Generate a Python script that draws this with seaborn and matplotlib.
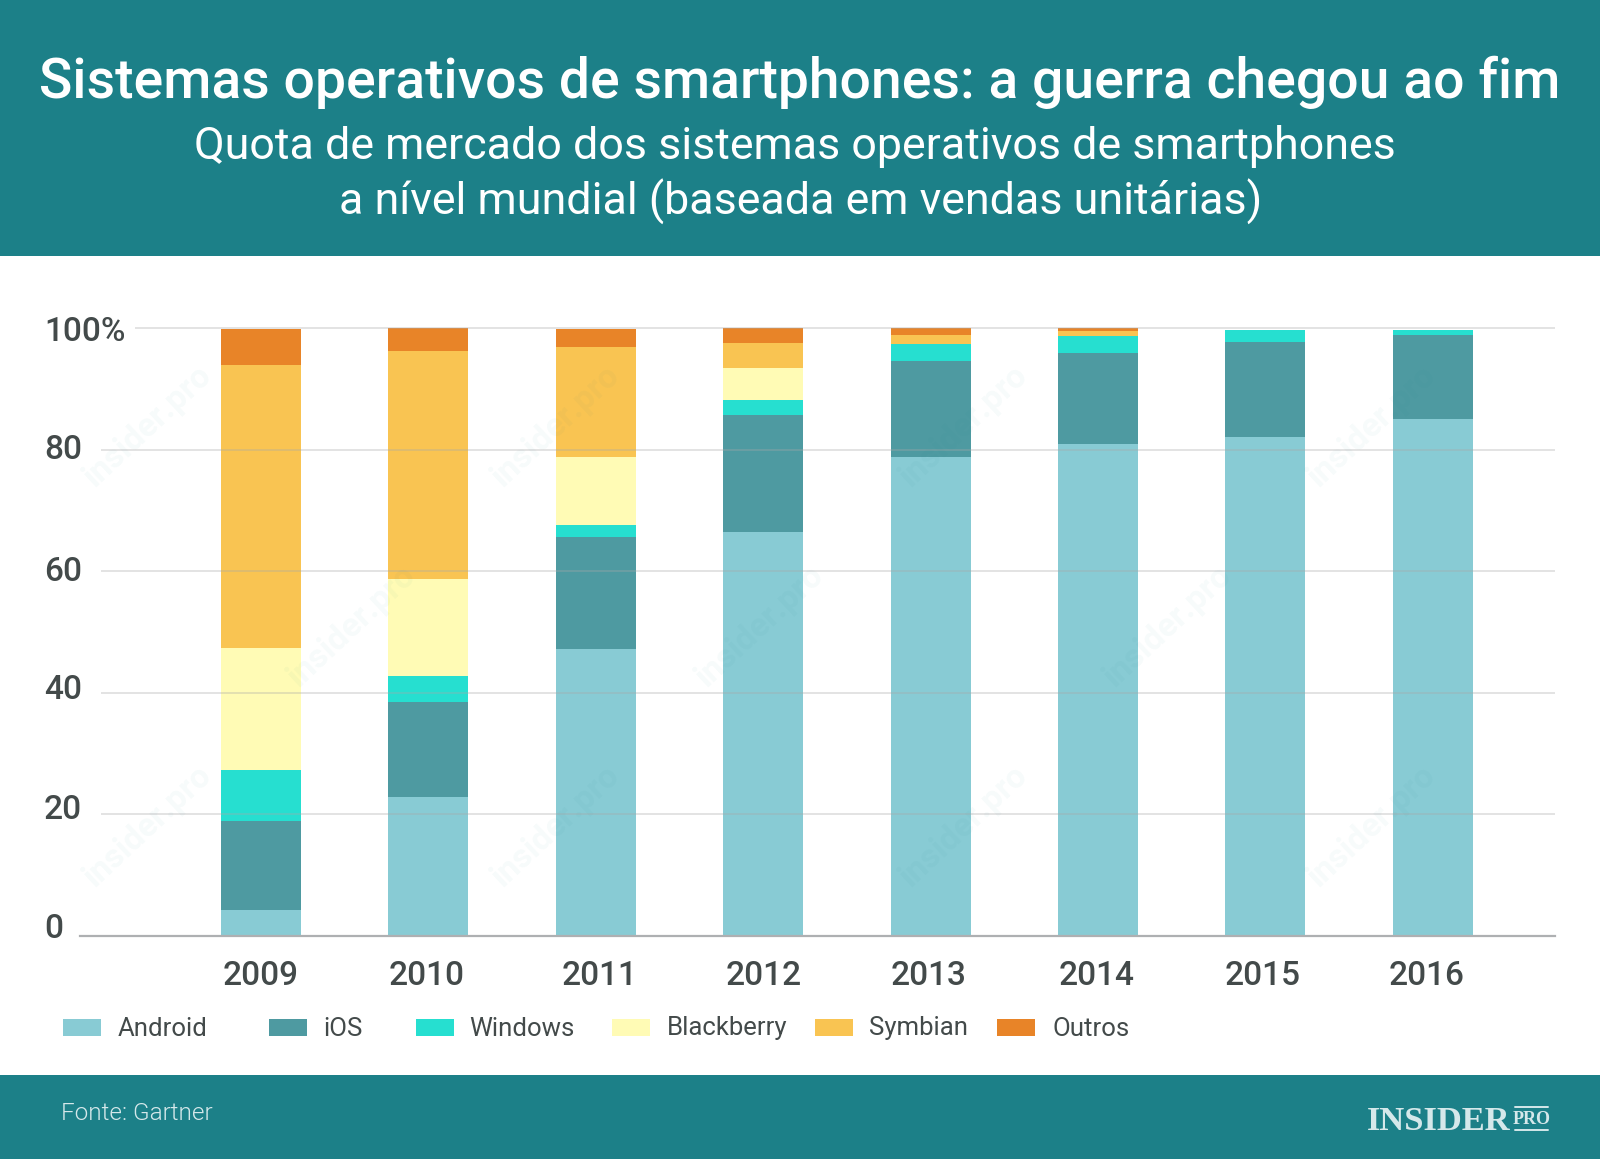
import matplotlib
matplotlib.use("Agg")
import matplotlib.pyplot as plt
from matplotlib.patches import Rectangle
from matplotlib.lines import Line2D
from matplotlib.transforms import ScaledTranslation
import numpy as np
import seaborn as sns

years = ["2009", "2010", "2011", "2012", "2013", "2014", "2015", "2016"]
android = [4.3, 22.9, 47.2, 66.5, 78.8, 80.9, 82.0, 85.1]
ios = [14.6, 15.6, 18.5, 19.2, 15.8, 15.0, 15.7, 13.7]
windows = [8.4, 4.2, 1.9, 2.5, 2.8, 2.8, 1.9, 0.8]
blackberry = [20.0, 16.0, 11.2, 5.2, 0.0, 0.0, 0.0, 0.0]
symbian = [46.6, 37.5, 18.0, 4.2, 1.5, 0.8, 0.0, 0.0]
outros = [5.9, 3.8, 3.0, 2.4, 1.1, 0.5, 0.0, 0.0]
series_names = ["Android", "iOS", "Windows", "Blackberry", "Symbian", "Outros"]
series_colors = ["#88cbd4", "#4e9aa1", "#26dfd0", "#fffbb5", "#f9c452", "#e88428"]
y_ticks = [0, 20, 40, 60, 80, 100]
y_labels = ["0", "20", "40", "60", "80", "100%"]
title = "Sistemas operativos de smartphones: a guerra chegou ao fim"
subtitle_1 = "Quota de mercado dos sistemas operativos de smartphones"
subtitle_2 = "a nível mundial (baseada em vendas unitárias)"
source = "Fonte: Gartner"

W, H = 1600, 1159
TEAL = "#1c8088"
INK = "#434a4a"
sns.set_theme(style="white")
plt.rcParams["font.family"] = ["Roboto", "DejaVu Sans"]

fig = plt.figure(figsize=(W / 100, H / 100), dpi=100, facecolor="white")


def fx(x):
    return x / W


def fy(y):
    return 1 - y / H


def band(x0, y0, x1, y1, color, zorder=-5):
    fig.add_artist(Rectangle((fx(x0), fy(y1)), (x1 - x0) / W, (y1 - y0) / H,
                             transform=fig.transFigure, facecolor=color,
                             edgecolor="none", zorder=zorder))


ax = fig.add_axes([fx(80), fy(936), (1555 - 80) / W, (936 - 328) / H])
ax.patch.set_alpha(0)

bottom = np.zeros(len(years))
for vals, col in zip([android, ios, windows, blackberry, symbian, outros], series_colors):
    sns.barplot(x=years, y=vals, bottom=bottom, color=col, saturation=1,
                width=0.478, ax=ax, linewidth=0, zorder=2)
    bottom = bottom + np.array(vals)

ax.set_xlim(-1.081, 7.73)
ax.set_ylim(0, 100)
for side in ["top", "right", "left"]:
    ax.spines[side].set_visible(False)
ax.spines["bottom"].set_color("#aeb0b2")
ax.spines["bottom"].set_linewidth(1.6)
ax.spines["bottom"].set_zorder(4)

# gridlines begin to the right of the y labels and lie over the bars
to_x = ax.get_yaxis_transform()
for v in y_ticks[1:]:
    start = (135 - 80) / (1555 - 80) if v == 100 else (101 - 80) / (1555 - 80)
    ax.plot([start, 1], [v, v], transform=to_x, color="#a8a8a8", alpha=0.33,
            lw=1.4, zorder=3, clip_on=False, solid_capstyle="butt")

ax.set_yticks(y_ticks)
ax.set_yticklabels(y_labels, fontsize=24, fontweight=500, color=INK, ha="left")
ax.tick_params(axis="y", length=0, pad=26)
label_shift = {"0": 11, "20": 8, "40": 6, "60": 3, "80": 3, "100%": -1}
for lab in ax.get_yticklabels():
    lab.set_transform(lab.get_transform() + ScaledTranslation(0, label_shift[lab.get_text()] / 100, fig.dpi_scale_trans))
ax.tick_params(axis="x", length=0, pad=17, labelsize=24, labelcolor=INK)
x_label_shift = [0, -2, 4, 1, -2, -1, -3, -6]
for lab, dx in zip(ax.get_xticklabels(), x_label_shift):
    lab.set_fontweight(500)
    lab.set_transform(lab.get_transform() + ScaledTranslation(dx / 100, 0, fig.dpi_scale_trans))
ax.set_xlabel("")
ax.set_ylabel("")

# faint diagonal watermark tiled across the white area and the bars
for i in range(-1, 5):
    for j in range(-1, 4):
        for ox, oy in ((0, 0), (204, -200)):
            cx, cy = 148 + i * 408 + ox, 426 + j * 400 + oy
            if cx < 70 or cx > W - 70 or cy < 256 + 70 or cy > 1075 - 70:
                continue
            fig.text(fx(cx), fy(cy), "insider.pro", rotation=43, ha="center", va="center",
                     color=TEAL, alpha=0.035, fontsize=24, fontweight="bold", zorder=0.5,
                     rotation_mode="anchor")

# header and footer bands
band(0, 0, W, 256, TEAL, zorder=0.6)
band(0, 1075, W, H, TEAL, zorder=0.6)

# header text
fig.text(0.5, fy(82), title, ha="center", va="center", color="white",
         fontsize=39.8, fontweight=500)
fig.text(fx(795), fy(147), subtitle_1, ha="center", va="center", color="white", fontsize=32.25)
fig.text(fx(800.5), fy(202), subtitle_2, ha="center", va="center", color="white", fontsize=32.25)

# legend, spaced as in the source
swatch_x = [63, 269, 416, 612, 815, 997]
label_x = [118, 323, 469, 667, 869, 1053]
for name, col, sx, lx in zip(series_names, series_colors, swatch_x, label_x):
    band(sx, 1019, sx + 38, 1036, col, zorder=1)
    fig.text(fx(lx), fy(1028.5), name, ha="left", va="center", color=INK, fontsize=18.5)

# footer
fig.text(fx(61), fy(1113), source, ha="left", va="center", color="#d5e8ea",
         fontsize=17.5, fontweight=300)
fig.text(fx(1367), fy(1121), "INSIDER", ha="left", va="center", color="#d5e8ea",
         fontsize=24.8, fontweight="bold", family="Liberation Serif")
fig.text(fx(1531.5), fy(1119.5), "PRO", ha="center", va="center", color="#d5e8ea",
         fontsize=13, fontweight="bold", family="Liberation Serif")
for yy in (1107, 1130):
    fig.add_artist(Line2D([fx(1515), fx(1548)], [fy(yy), fy(yy)], color="#d5e8ea",
                          lw=1.4, transform=fig.transFigure))

fig.savefig("out.png", dpi=100, facecolor="white")
